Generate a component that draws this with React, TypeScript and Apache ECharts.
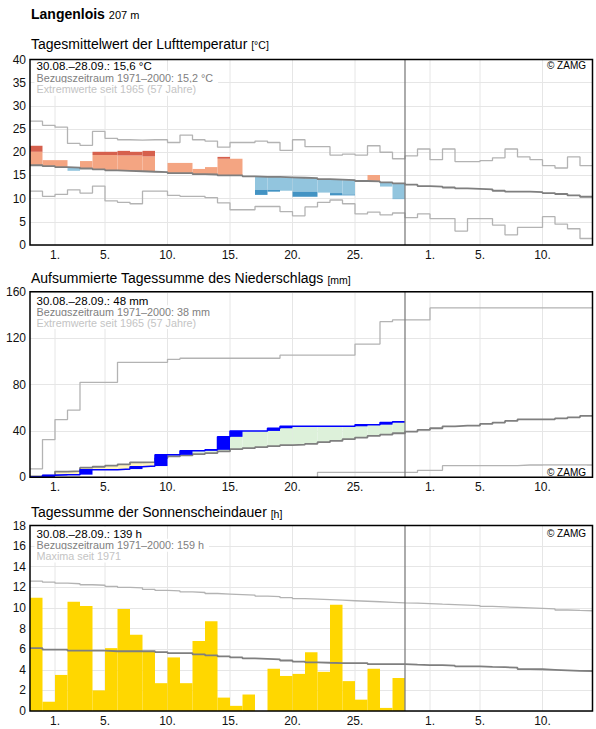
import React, { useEffect, useRef } from 'react';
import * as echarts from 'echarts';

// Days shown: 30.08. (index 0) to 13.10. (index 44); the reporting period ends after 28.09.
const dayCount = 45;
const periodDays = 30;
const tickDays = [2, 6, 11, 16, 21, 26, 32, 36, 41];
const tickLabels = ['1.', '5.', '10.', '15.', '20.', '25.', '1.', '5.', '10.'];

// Daily mean air temperature [°C]
const tempObserved = [21.4, 18.3, 18.3, 16.0, 18.1, 20.1, 20.1, 20.3, 20.1, 20.3, 15.7, 17.7, 17.7, 16.4, 16.8, 19.0, 18.6, 14.7, 10.8, 11.5, 11.7, 10.4, 10.4, 11.3, 10.7, 10.7, 14.0, 15.1, 12.6, 9.9];
const tempNormal = [17.2, 17.0, 16.8, 16.7, 16.5, 16.3, 16.1, 16.0, 15.9, 15.8, 15.7, 15.5, 15.5, 15.3, 15.2, 15.0, 15.0, 14.8, 14.7, 14.7, 14.6, 14.5, 14.4, 14.2, 14.1, 14.0, 13.8, 13.7, 13.5, 13.3, 13.0, 12.7, 12.6, 12.4, 12.2, 12.1, 12.0, 11.7, 11.5, 11.5, 11.4, 11.2, 11.0, 10.7, 10.4];
const tempSpread = [2.9, 3.0, 3.0, 3.0, 3.0, 3.1, 3.3, 3.3, 3.4, 3.3, 3.4, 3.4, 3.4, 3.4, 3.4, 3.6, 3.6, 3.0, 2.8, 2.8, 2.9, 3.0, 2.9, 2.9, 2.9, 3.1, 3.1, 3.1, 3.1, 3.3];
const tempMax = [26.7, 25.8, 25.4, 21.9, 21.5, 24.5, 23.0, 22.7, 22.6, 22.7, 22.7, 22.1, 23.7, 22.7, 22.4, 21.1, 22.1, 22.1, 22.4, 22.1, 20.4, 22.7, 21.2, 21.2, 19.4, 19.6, 19.4, 21.4, 20.0, 18.6, 19.2, 20.7, 18.4, 20.7, 18.0, 18.0, 18.2, 18.8, 20.7, 19.0, 18.4, 17.1, 16.6, 19.0, 17.1];
const tempMin = [11.6, 10.5, 10.9, 11.9, 11.2, 12.7, 9.5, 9.2, 8.9, 11.6, 11.6, 10.7, 10.5, 10.5, 10.2, 9.1, 7.6, 7.6, 8.3, 8.3, 7.2, 6.3, 8.2, 9.2, 9.7, 8.9, 6.7, 7.1, 6.5, 6.9, 5.9, 6.7, 5.7, 5.7, 3.0, 5.7, 5.7, 4.3, 2.2, 3.8, 3.8, 6.1, 4.5, 3.5, 1.4];

// Accumulated precipitation [mm]
const precipObserved = [0.3, 1.7, 2.3, 2.3, 6.6, 6.6, 6.6, 7.1, 9.1, 9.7, 19.4, 19.4, 22.9, 22.9, 23.7, 34.9, 40.0, 40.0, 40.0, 42.3, 44.0, 44.0, 44.0, 44.0, 44.0, 44.0, 45.4, 45.4, 47.3, 48.0];
const precipNormal = [0.8, 1.5, 4.9, 5.4, 8.3, 9.1, 10.0, 11.1, 12.9, 13.1, 16.6, 18.0, 18.9, 20.0, 20.9, 22.3, 24.3, 25.1, 26.0, 26.9, 27.7, 28.2, 28.9, 30.3, 31.4, 32.9, 34.3, 35.7, 36.8, 38.0, 39.4, 40.9, 42.3, 44.0, 44.6, 44.6, 46.0, 47.2, 48.6, 50.0, 50.0, 50.0, 50.9, 51.7, 52.9];
const precipMax = [7.3, 32.5, 49.8, 57.9, 81.9, 81.9, 81.9, 99.2, 99.2, 99.2, 99.2, 101.8, 102.7, 102.7, 102.7, 102.7, 102.7, 102.7, 102.7, 102.7, 105.3, 105.3, 105.3, 105.3, 105.3, 105.3, 114.9, 114.9, 134.2, 135.7, 135.7, 135.7, 146.1, 146.1, 146.1, 146.1, 146.1, 146.1, 146.1, 146.1, 146.1, 146.1, 146.1, 146.1, 146.1];
const precipMin = [0, 0, 0, 0, 0, 0, 0, 0, 0, 0, 0, 0, 0, 0, 0, 0, 0, 0, 0, 0, 0, 0, 0, 4.3, 4.3, 4.3, 4.3, 4.3, 4.3, 4.3, 4.3, 6.0, 6.0, 10.0, 10.0, 10.0, 10.0, 10.0, 10.0, 10.6, 10.6, 10.6, 10.6, 10.6, 10.6];

// Daily sunshine duration [h]
const sunObserved = [11.0, 0.9, 3.5, 10.6, 10.2, 2.0, 6.1, 9.9, 7.4, 5.8, 2.7, 5.2, 2.7, 6.8, 8.7, 1.3, 0.5, 1.6, 0.0, 4.1, 3.4, 3.6, 5.7, 3.8, 10.3, 2.9, 1.1, 4.1, 0.3, 3.2];
const sunNormal = [6.1, 5.95, 5.95, 5.85, 5.85, 5.85, 5.8, 5.8, 5.8, 5.8, 5.72, 5.62, 5.62, 5.5, 5.4, 5.3, 5.2, 5.1, 5.05, 5.0, 4.9, 4.8, 4.72, 4.68, 4.65, 4.65, 4.65, 4.55, 4.55, 4.55, 4.5, 4.46, 4.46, 4.4, 4.33, 4.33, 4.28, 4.25, 4.2, 4.07, 4.05, 4.0, 3.95, 3.9, 3.88];
const sunMax = [12.6, 12.5, 12.4, 12.35, 12.25, 12.2, 12.1, 12.0, 11.95, 11.8, 11.7, 11.65, 11.55, 11.5, 11.4, 11.35, 11.3, 11.25, 11.15, 11.1, 11.0, 10.9, 10.85, 10.8, 10.75, 10.7, 10.65, 10.6, 10.55, 10.5, 10.47, 10.42, 10.37, 10.33, 10.28, 10.22, 10.15, 10.1, 10.05, 10.0, 9.95, 9.9, 9.8, 9.76, 9.73];

const panelTexts = [
  {
    title: 'Tagesmittelwert der Lufttemperatur',
    unit: '[°C]',
    lines: ['30.08.–28.09.: 15,6 °C', 'Bezugszeitraum 1971–2000: 15,2 °C', 'Extremwerte seit 1965 (57 Jahre)'],
  },
  {
    title: 'Aufsummierte Tagessumme des Niederschlags',
    unit: '[mm]',
    lines: ['30.08.–28.09.: 48 mm', 'Bezugszeitraum 1971–2000: 38 mm', 'Extremwerte seit 1965 (57 Jahre)'],
  },
  {
    title: 'Tagessumme der Sonnenscheindauer',
    unit: '[h]',
    lines: ['30.08.–28.09.: 139 h', 'Bezugszeitraum 1971–2000: 159 h', 'Maxima seit 1971'],
  },
];

const FONT = '"Liberation Sans", Arial, Helvetica, sans-serif';
const GRID_LEFT = 30;
const GRID_WIDTH = 562.5;
const GRID_HEIGHT = 185.5;
const GRID_TOPS = [59.5, 291.8, 525.5];
const Y_AXES = [
  { max: 40, interval: 5 },
  { max: 160, interval: 40 },
  { max: 18, interval: 2 },
];
const TITLE_Y = [43.5, 278, 512.3];
const LEGEND_Y = [
  [65.7, 77.5, 89.2],
  [300.5, 311.8, 322.5],
  [534, 545.3, 556],
];
const LEGEND_SIZES = [11.5, 10.8, 10.8];
const LEGEND_COLORS = ['#000', '#808080', '#c4c4c4'];
const ZAMG_Y = [65.3, 472.7, 533.7];

const COLORS = {
  grid: '#e6e6e6',
  extreme: '#b3b3b3',
  normal: '#7f7f7f',
  warm: '#f4a582',
  warmStrong: '#d6604d',
  cold: '#92c5de',
  coldStrong: '#4393c3',
  rain: '#0000ff',
  dry: '#fff4bf',
  wet: '#ddf1da',
  sun: '#ffd700',
};

function stepData(values: number[]) {
  const pts = values.map((v, i) => [i, v]);
  pts.push([values.length, values[values.length - 1]]);
  return pts;
}

function rectBetween(api: any, x0: number, x1: number, y0: number, y1: number, fill: string) {
  const a = api.coord([x0, y0]);
  const b = api.coord([x1, y1]);
  return {
    type: 'rect',
    shape: { x: a[0], y: Math.min(a[1], b[1]), width: b[0] - a[0], height: Math.abs(b[1] - a[1]) },
    style: { fill },
  };
}

function stepLine(panel: number, values: number[], color: string, width: number, z: number) {
  return {
    type: 'line',
    xAxisIndex: panel,
    yAxisIndex: panel,
    data: stepData(values),
    step: 'end',
    showSymbol: false,
    symbol: 'none',
    silent: true,
    z,
    lineStyle: { color, width },
  };
}

function verticalGrid(panel: number) {
  const yMax = Y_AXES[panel].max;
  return {
    type: 'custom',
    xAxisIndex: panel,
    yAxisIndex: panel,
    silent: true,
    z: 1,
    data: tickDays.map((d) => [d, 0]),
    encode: { x: 0, y: 1 },
    renderItem: (_p: any, api: any) => {
      const a = api.coord([api.value(0), 0]);
      const b = api.coord([api.value(0), yMax]);
      return {
        type: 'line',
        shape: { x1: a[0], y1: a[1], x2: b[0], y2: b[1] },
        style: { stroke: COLORS.grid, lineWidth: 1 },
      };
    },
  };
}

function separator(panel: number) {
  const yMax = Y_AXES[panel].max;
  return {
    type: 'custom',
    xAxisIndex: panel,
    yAxisIndex: panel,
    silent: true,
    z: 6,
    data: [[periodDays, 0]],
    encode: { x: 0, y: 1 },
    renderItem: (_p: any, api: any) => {
      const a = api.coord([api.value(0), 0]);
      const b = api.coord([api.value(0), yMax]);
      return {
        type: 'line',
        shape: { x1: a[0], y1: a[1], x2: b[0], y2: b[1] },
        style: { stroke: COLORS.normal, lineWidth: 1.3 },
      };
    },
  };
}

function buildOption() {
  const grids = GRID_TOPS.map((top) => ({
    left: GRID_LEFT,
    top,
    width: GRID_WIDTH,
    height: GRID_HEIGHT,
    show: false,
    containLabel: false,
  }));

  const xAxes = GRID_TOPS.map((_, i) => ({
    type: 'value',
    gridIndex: i,
    min: 0,
    max: dayCount,
    interval: 1,
    axisLine: { show: false },
    axisTick: { show: false },
    splitLine: { show: false },
    axisLabel: {
      margin: 4,
      fontSize: 12,
      fontFamily: FONT,
      color: '#111',
      showMinLabel: true,
      showMaxLabel: true,
      formatter: (v: number) => {
        const k = tickDays.indexOf(Math.round(v));
        return k >= 0 ? tickLabels[k] : '';
      },
    },
  }));

  const yAxes = Y_AXES.map((ax, i) => ({
    type: 'value',
    gridIndex: i,
    min: 0,
    max: ax.max,
    interval: ax.interval,
    axisLine: { show: false },
    axisTick: { show: false },
    splitLine: { show: true, lineStyle: { color: COLORS.grid, width: 1 } },
    axisLabel: { margin: 4, fontSize: 12, fontFamily: FONT, color: '#111' },
  }));

  const series: any[] = [];

  // Temperature panel: deviation from the normal, stronger colour beyond the spread band
  series.push(verticalGrid(0));
  series.push({
    type: 'custom',
    xAxisIndex: 0,
    yAxisIndex: 0,
    silent: true,
    z: 2,
    data: tempObserved.map((v, i) => [i, tempNormal[i], v, tempSpread[i]]),
    encode: { x: 0, y: 2 },
    renderItem: (_p: any, api: any) => {
      const i = api.value(0);
      const normal = api.value(1);
      const obs = api.value(2);
      const spread = api.value(3);
      const children: any[] = [];
      if (obs > normal) {
        const lim = normal + spread;
        children.push(rectBetween(api, i, i + 1, normal, Math.min(obs, lim), COLORS.warm));
        if (obs > lim) children.push(rectBetween(api, i, i + 1, lim, obs, COLORS.warmStrong));
      } else if (obs < normal) {
        const lim = normal - spread;
        children.push(rectBetween(api, i, i + 1, normal, Math.max(obs, lim), COLORS.cold));
        if (obs < lim) children.push(rectBetween(api, i, i + 1, lim, obs, COLORS.coldStrong));
      }
      return { type: 'group', children };
    },
  });
  series.push(stepLine(0, tempMax, COLORS.extreme, 1.3, 3));
  series.push(stepLine(0, tempMin, COLORS.extreme, 1.3, 3));
  series.push(stepLine(0, tempNormal, COLORS.normal, 1.8, 4));
  series.push(separator(0));

  // Precipitation panel: deficit / surplus against the normal sum, daily increments in blue
  series.push(verticalGrid(1));
  series.push({
    type: 'custom',
    xAxisIndex: 1,
    yAxisIndex: 1,
    silent: true,
    z: 2,
    data: precipObserved.map((v, i) => [i, precipNormal[i], v]),
    encode: { x: 0, y: 2 },
    renderItem: (_p: any, api: any) => {
      const i = api.value(0);
      const normal = api.value(1);
      const obs = api.value(2);
      if (obs === normal) return { type: 'group', children: [] };
      return rectBetween(api, i, i + 1, normal, obs, obs < normal ? COLORS.dry : COLORS.wet);
    },
  });
  series.push(stepLine(1, precipMax, COLORS.extreme, 1.3, 3));
  series.push(stepLine(1, precipMin, COLORS.extreme, 1.3, 3));
  series.push(stepLine(1, precipNormal, COLORS.normal, 1.8, 4));
  series.push({
    type: 'custom',
    xAxisIndex: 1,
    yAxisIndex: 1,
    silent: true,
    z: 5,
    data: precipObserved.map((v, i) => [i, i > 0 ? precipObserved[i - 1] : 0, v]),
    encode: { x: 0, y: 2 },
    renderItem: (_p: any, api: any) => {
      const i = api.value(0);
      const prev = api.value(1);
      const cur = api.value(2);
      if (cur <= prev) return { type: 'group', children: [] };
      return rectBetween(api, i, i + 1, prev, cur, COLORS.rain);
    },
  });
  series.push(stepLine(1, precipObserved, COLORS.rain, 1.5, 5));
  series.push(separator(1));

  // Sunshine panel
  series.push(verticalGrid(2));
  series.push({
    type: 'custom',
    xAxisIndex: 2,
    yAxisIndex: 2,
    silent: true,
    z: 2,
    data: sunObserved.map((v, i) => [i, v]),
    encode: { x: 0, y: 1 },
    renderItem: (_p: any, api: any) => {
      const i = api.value(0);
      return rectBetween(api, i, i + 1, 0, api.value(1), COLORS.sun);
    },
  });
  series.push(stepLine(2, sunMax, COLORS.extreme, 1.3, 3));
  series.push(stepLine(2, sunNormal, COLORS.normal, 1.8, 4));
  series.push(separator(2));

  const graphic: any[] = [
    {
      type: 'text',
      x: 31,
      y: 13.8,
      z: 20,
      silent: true,
      style: {
        text: '{b|Langenlois} {s|207 m}',
        verticalAlign: 'middle',
        fontFamily: FONT,
        fontSize: 14,
        rich: {
          b: { fontSize: 14, fontWeight: 'bold', fontFamily: FONT, fill: '#000', verticalAlign: 'bottom' },
          s: { fontSize: 11, fontFamily: FONT, fill: '#000', verticalAlign: 'bottom' },
        },
      },
    },
  ];

  panelTexts.forEach((p, i) => {
    graphic.push({
      type: 'text',
      x: 31,
      y: TITLE_Y[i],
      z: 20,
      silent: true,
      style: {
        text: `{t|${p.title}} {u|${p.unit}}`,
        verticalAlign: 'middle',
        fontFamily: FONT,
        fontSize: 14,
        rich: {
          t: { fontSize: 14, fontFamily: FONT, fill: '#000', verticalAlign: 'bottom' },
          u: { fontSize: 10.5, fontFamily: FONT, fill: '#000', verticalAlign: 'bottom' },
        },
      },
    });
    p.lines.forEach((line, j) => {
      graphic.push({
        type: 'text',
        x: 34.5,
        y: LEGEND_Y[i][j],
        z: 15,
        silent: true,
        style: {
          text: line,
          fontFamily: FONT,
          fontSize: LEGEND_SIZES[j],
          fill: LEGEND_COLORS[j],
          verticalAlign: 'middle',
          backgroundColor: '#fff',
          padding: [1, 5, 1, 2],
        },
      });
    });
    graphic.push({
      type: 'text',
      x: 587,
      y: ZAMG_Y[i],
      z: 15,
      silent: true,
      style: {
        text: '© ZAMG',
        fontFamily: FONT,
        fontSize: 10,
        fill: '#000',
        align: 'right',
        verticalAlign: 'middle',
        backgroundColor: '#fff',
        padding: [3, 1, 1, 4],
      },
    });
    graphic.push({
      type: 'rect',
      z: 30,
      silent: true,
      shape: { x: GRID_LEFT, y: GRID_TOPS[i], width: GRID_WIDTH, height: GRID_HEIGHT },
      style: { fill: 'transparent', stroke: '#000', lineWidth: 1.5 },
    });
  });

  return {
    animation: false,
    backgroundColor: '#fff',
    textStyle: { fontFamily: FONT },
    grid: grids,
    xAxis: xAxes,
    yAxis: yAxes,
    series,
    graphic,
  };
}

export default function App() {
  const ref = useRef<HTMLDivElement>(null);
  useEffect(() => {
    if (!ref.current) return;
    const chart = echarts.init(ref.current, null, { renderer: 'svg' });
    chart.setOption(buildOption() as any);
    return () => chart.dispose();
  }, []);
  return (
    <div
      ref={ref}
      style={{ position: 'absolute', left: 0, top: 0, width: 596, height: 729, background: '#fff' }}
    />
  );
}
